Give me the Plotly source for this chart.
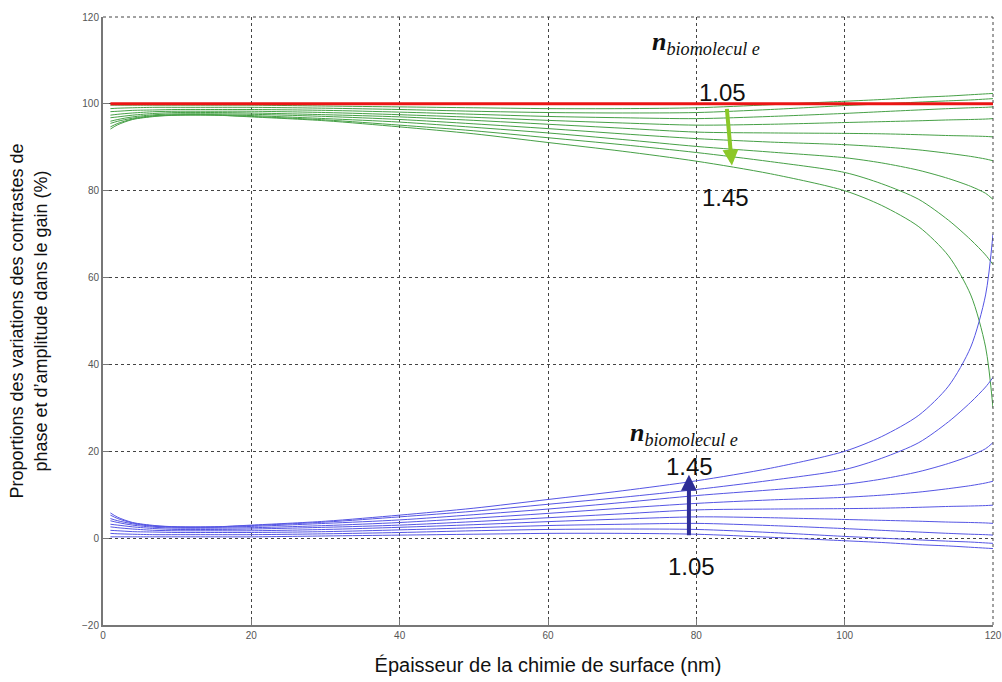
import plotly.graph_objects as go

# épaisseur (nm)
thickness = [1, 2, 4, 7, 10, 15, 20, 30, 40, 50, 60, 70, 80, 90, 100, 105, 110, 114, 117, 119, 120]

n_values = ["1.05", "1.10", "1.15", "1.20", "1.25", "1.30", "1.35", "1.40", "1.45"]

# part de phase (vert), une courbe par indice n
green_105 = [99.7, 99.7, 99.7, 99.7, 99.7, 99.7, 99.7, 99.5, 99.3, 99.1, 98.9, 98.9, 99.1, 99.8, 100.6, 101.0, 101.5, 101.8, 102.1, 102.3, 102.4]
green_110 = [98.9, 99.0, 99.1, 99.2, 99.2, 99.2, 99.2, 99.0, 98.7, 98.3, 98.0, 97.9, 98.0, 98.7, 99.6, 100.0, 100.4, 100.7, 100.9, 101.1, 101.2]
green_115 = [98.2, 98.3, 98.5, 98.6, 98.7, 98.7, 98.7, 98.5, 98.1, 97.6, 97.1, 96.8, 96.6, 97.1, 97.8, 98.2, 98.6, 98.9, 99.1, 99.2, 99.3]
green_120 = [97.4, 97.6, 97.9, 98.2, 98.3, 98.3, 98.3, 98.0, 97.5, 96.9, 96.2, 95.6, 95.1, 95.3, 95.7, 95.9, 96.1, 96.3, 96.4, 96.5, 96.6]
green_125 = [96.8, 97.0, 97.4, 97.8, 98.0, 98.0, 97.9, 97.5, 97.0, 96.2, 95.3, 94.4, 93.5, 93.3, 93.2, 93.1, 92.9, 92.7, 92.6, 92.5, 92.4]
green_130 = [96.0, 96.4, 97.0, 97.5, 97.7, 97.7, 97.6, 97.1, 96.4, 95.4, 94.3, 93.1, 92.0, 91.2, 90.6, 90.1, 89.4, 88.6, 87.9, 87.3, 86.9]
green_135 = [95.5, 96.0, 96.7, 97.3, 97.5, 97.5, 97.3, 96.6, 95.8, 94.6, 93.3, 91.8, 90.2, 88.9, 87.6, 86.4, 84.7, 82.8, 81.0, 79.4, 78.0]
green_140 = [94.7, 95.5, 96.5, 97.2, 97.4, 97.4, 97.1, 96.3, 95.1, 93.8, 92.2, 90.6, 88.8, 86.7, 84.2, 81.6, 78.0, 73.2, 68.7, 65.2, 63.0]
green_145 = [94.2, 95.2, 96.4, 97.1, 97.4, 97.4, 97.0, 96.1, 94.7, 93.1, 91.1, 89.1, 86.8, 83.9, 80.0, 76.6, 71.7, 65.0, 56.0, 44.0, 30.0]

# part d'amplitude (bleu)
blue_105 = [0.3, 0.3, 0.3, 0.3, 0.3, 0.3, 0.3, 0.5, 0.7, 0.9, 1.1, 1.1, 0.9, 0.2, -0.6, -1.0, -1.5, -1.8, -2.1, -2.3, -2.4]
blue_110 = [1.1, 1.0, 0.9, 0.8, 0.8, 0.8, 0.8, 1.0, 1.3, 1.7, 2.0, 2.1, 2.0, 1.3, 0.4, 0.0, -0.4, -0.7, -0.9, -1.1, -1.2]
blue_115 = [1.8, 1.7, 1.5, 1.4, 1.3, 1.3, 1.3, 1.5, 1.9, 2.4, 2.9, 3.2, 3.4, 2.9, 2.2, 1.8, 1.4, 1.1, 0.9, 0.8, 0.7]
blue_120 = [2.6, 2.4, 2.1, 1.8, 1.7, 1.7, 1.7, 2.0, 2.5, 3.1, 3.8, 4.4, 4.9, 4.7, 4.3, 4.1, 3.9, 3.7, 3.6, 3.5, 3.4]
blue_125 = [3.2, 3.0, 2.6, 2.2, 2.0, 2.0, 2.1, 2.5, 3.0, 3.8, 4.7, 5.6, 6.5, 6.7, 6.8, 6.9, 7.1, 7.3, 7.4, 7.5, 7.6]
blue_130 = [4.0, 3.6, 3.0, 2.5, 2.3, 2.3, 2.4, 2.9, 3.6, 4.6, 5.7, 6.9, 8.0, 8.8, 9.4, 9.9, 10.6, 11.4, 12.1, 12.7, 13.1]
blue_135 = [4.5, 4.0, 3.3, 2.7, 2.5, 2.5, 2.7, 3.4, 4.2, 5.4, 6.7, 8.2, 9.8, 11.1, 12.4, 13.6, 15.3, 17.2, 19.0, 20.6, 22.0]
blue_140 = [5.3, 4.5, 3.5, 2.8, 2.6, 2.6, 2.9, 3.7, 4.9, 6.2, 7.8, 9.4, 11.2, 13.3, 15.8, 18.4, 22.0, 26.8, 31.3, 34.8, 37.0]
blue_145 = [5.8, 4.8, 3.6, 2.9, 2.6, 2.6, 3.0, 3.9, 5.3, 6.9, 8.9, 10.9, 13.2, 16.1, 20.0, 23.4, 28.3, 35.0, 44.0, 56.0, 70.0]

# somme phase + amplitude
total_x = [1, 120]
total_y = [100, 100]

green_curves = [green_105, green_110, green_115, green_120, green_125,
                green_130, green_135, green_140, green_145]
blue_curves = [blue_105, blue_110, blue_115, blue_120, blue_125,
               blue_130, blue_135, blue_140, blue_145]

fig = go.Figure()

for n, ys in zip(n_values, green_curves):
    fig.add_trace(go.Scatter(
        x=thickness, y=ys, mode="lines", name=f"phase n={n}",
        line=dict(color="rgb(70,160,70)", width=1, shape="spline", smoothing=0.8),
    ))

for n, ys in zip(n_values, blue_curves):
    fig.add_trace(go.Scatter(
        x=thickness, y=ys, mode="lines", name=f"amplitude n={n}",
        line=dict(color="rgb(85,85,228)", width=1, shape="spline", smoothing=0.8),
    ))

fig.add_trace(go.Scatter(
    x=total_x, y=total_y, mode="lines", name="total",
    line=dict(color="rgb(235,20,20)", width=3),
))

label_font = dict(family="Liberation Sans, Arial, sans-serif", size=24, color="#111")
n_font = dict(family="Liberation Serif, Times New Roman, serif", size=26, color="#111")

fig.add_annotation(x=81.3, y=114.0, text="<b><i>n</i></b><sub><i>biomolecul e</i></sub>",
                   showarrow=False, font=n_font)
fig.add_annotation(x=83.5, y=102.6, text="1.05", showarrow=False, font=label_font)
fig.add_annotation(x=83.9, y=78.4, text="1.45", showarrow=False, font=label_font)
fig.add_annotation(x=84.8, y=85.8, ax=84.1, ay=99.2, axref="x", ayref="y", text="",
                   showarrow=True, arrowhead=2, arrowsize=0.8, arrowwidth=4,
                   arrowcolor="rgb(140,200,40)")

fig.add_annotation(x=78.3, y=24.0, text="<b><i>n</i></b><sub><i>biomolecul e</i></sub>",
                   showarrow=False, font=n_font)
fig.add_annotation(x=79.1, y=16.5, text="1.45", showarrow=False, font=label_font)
fig.add_annotation(x=79.4, y=-6.5, text="1.05", showarrow=False, font=label_font)
fig.add_annotation(x=79.0, y=14.6, ax=79.0, ay=0.3, axref="x", ayref="y", text="",
                   showarrow=True, arrowhead=2, arrowsize=0.8, arrowwidth=4,
                   arrowcolor="rgb(45,45,150)")

# grille pointillée sur les bords haut et droit
for edge in [dict(x0=0, x1=1, y0=1, y1=1), dict(x0=1, x1=1, y0=0, y1=1)]:
    fig.add_shape(type="line", xref="paper", yref="paper", **edge,
                  line=dict(color="#444", width=1, dash="dot"))

axis_common = dict(
    showgrid=True, gridcolor="#444", griddash="dot", gridwidth=1,
    zeroline=False, showline=True, linecolor="#777", linewidth=2,
    ticks="inside", ticklen=6, tickcolor="#777", automargin=False,
    tickfont=dict(family="Liberation Sans, Arial, sans-serif", size=10, color="#555"),
)

fig.update_xaxes(
    range=[0, 120], tick0=0, dtick=20,
    title=dict(text="Épaisseur de la chimie de surface (nm)", standoff=18,
               font=dict(family="Liberation Sans, Arial, sans-serif", size=20, color="#111")),
    **axis_common,
)
fig.update_yaxes(
    range=[-20, 120], tick0=-20, dtick=20,
    title=dict(text="Proportions des variations des contrastes de<br>phase et d’amplitude dans le gain (%)",
               standoff=30,
               font=dict(family="Liberation Sans, Arial, sans-serif", size=18, color="#111")),
    **axis_common,
)

fig.update_layout(
    width=1002, height=682,
    margin=dict(l=103, r=9, t=17, b=57),
    plot_bgcolor="white", paper_bgcolor="white",
    showlegend=False,
)

# retire la marge de 8 px que la page ajoute autour du graphique
fig.write_html("out.html", config={"displayModeBar": False},
               post_script="document.body.style.margin = '0';")
